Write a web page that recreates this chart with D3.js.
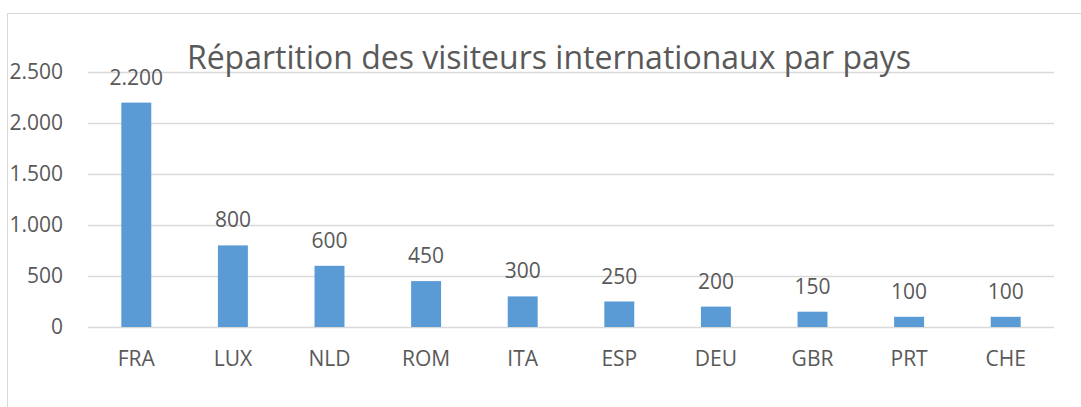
<!DOCTYPE html>
<html>
<head>
<meta charset="utf-8">
<script src="https://cdn.jsdelivr.net/npm/d3@7"></script>
<style>
  body { margin: 0; background: #fff; }
  text { font-family: "Open Sans", "Noto Sans", sans-serif; fill: #595959; }
</style>
</head>
<body>
<div id="chart"></div>
<script>
// data
const countries = ["FRA", "LUX", "NLD", "ROM", "ITA", "ESP", "DEU", "GBR", "PRT", "CHE"];
const visitors = [2200, 800, 600, 450, 300, 250, 200, 150, 100, 100];
const yTicks = [0, 500, 1000, 1500, 2000, 2500];
const chartTitle = "Répartition des visiteurs internationaux par pays";

const W = 1081, H = 407;
const margin = {top: 72, right: 27, bottom: 80, left: 88},
    width = W - margin.left - margin.right,
    height = 327 - margin.top;

const svg = d3.select("#chart")
    .append("svg")
    .attr("width", W)
    .attr("height", H);

// chart frame (right and bottom run off the picture)
svg.append("rect")
    .attr("x", 7.5)
    .attr("y", 13.5)
    .attr("width", W + 20)
    .attr("height", H + 20)
    .attr("fill", "none")
    .attr("stroke", "#d9d9d9")
    .attr("stroke-width", 1);

const g = svg.append("g")
    .attr("transform", `translate(${margin.left},${margin.top})`);

const x = d3.scaleBand()
    .domain(countries)
    .range([0, width])
    .paddingInner(0.69)
    .paddingOuter(0.345);

const y = d3.scaleLinear()
    .domain([0, 2500])
    .range([height, 0]);

const fmt = d3.formatLocale({decimal: ",", thousands: ".", grouping: [3], currency: ["", "€"]}).format(",d");

// gridlines
g.append("g")
    .attr("class", "grid")
    .call(d3.axisLeft(y).tickValues(yTicks).tickSize(-width).tickFormat(""))
    .call(s => s.select(".domain").remove())
    .selectAll("line")
    .attr("stroke", "#d9d9d9")
    .attr("stroke-width", 1.5);

// y axis labels
g.append("g")
    .call(d3.axisLeft(y).tickValues(yTicks).tickSize(0).tickPadding(25).tickFormat(fmt))
    .call(s => s.select(".domain").remove())
    .selectAll("text")
    .style("font-size", "21px")
    .style("fill", "#595959");

// x axis labels
g.append("g")
    .attr("transform", `translate(0,${height})`)
    .call(d3.axisBottom(x).tickSize(0).tickPadding(24))
    .call(s => s.select(".domain").remove())
    .selectAll("text")
    .style("font-size", "21px")
    .style("fill", "#595959");

// bars
g.selectAll(".bar")
    .data(countries)
    .enter()
    .append("rect")
    .attr("class", "bar")
    .attr("x", d => x(d))
    .attr("y", (d, i) => y(visitors[i]))
    .attr("width", x.bandwidth())
    .attr("height", (d, i) => height - y(visitors[i]))
    .attr("fill", "#5b9bd5");

// value labels
g.selectAll(".val")
    .data(countries)
    .enter()
    .append("text")
    .attr("class", "val")
    .attr("x", d => x(d) + x.bandwidth() / 2)
    .attr("y", (d, i) => y(visitors[i]) - 18)
    .attr("text-anchor", "middle")
    .style("font-size", "21px")
    .text((d, i) => fmt(visitors[i]));

// title
svg.append("text")
    .attr("x", 549)
    .attr("y", 69)
    .attr("text-anchor", "middle")
    .style("font-size", "32px")
    .text(chartTitle);
</script>
</body>
</html>
